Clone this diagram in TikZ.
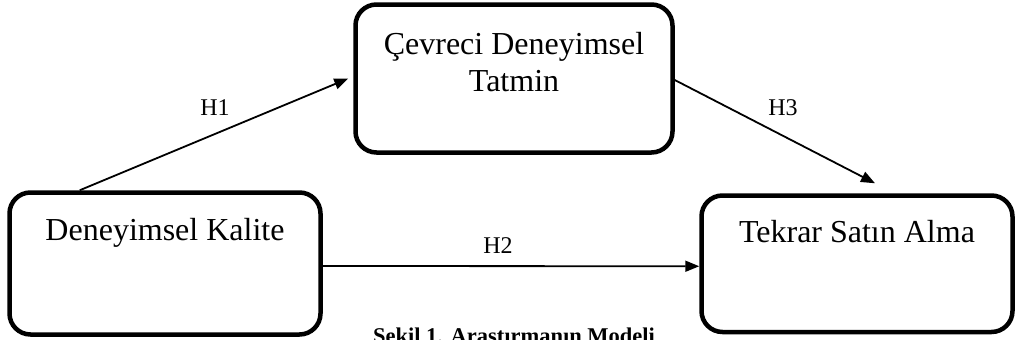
\documentclass[tikz,border=0pt]{standalone}
\usepackage{fontspec}
\setmainfont{Liberation Serif}
\usetikzlibrary{arrows.meta}
\tikzset{
  box/.style={draw, line width=4.5pt, rounded corners=21pt, inner sep=0pt},
  boxtext/.style={inner sep=0pt, font=\fontsize{32}{37}\selectfont, align=center},
  hyplabel/.style={inner sep=0pt, font=\fontsize{24}{28}\selectfont},
  arr/.style={line width=1.8pt, -{Triangle[length=14pt,width=11pt]}},
  caption/.style={inner sep=0pt, font=\fontsize{22.5}{26}\selectfont\bfseries}
}
\begin{document}
\begin{tikzpicture}[x=1pt, y=-1pt]
\useasboundingbox (0,0) rectangle (1018,340);
% construct boxes
\node[box, minimum width=311pt, minimum height=142pt] (dk) at (165,263.5) {};
\node[box, minimum width=317pt, minimum height=148pt] (cdt) at (514,78.5) {};
\node[box, minimum width=311pt, minimum height=136.5pt] (tsa) at (857,263.75) {};
% box titles
\node[boxtext, anchor=base] (dkt) at (165,240) {Deneyimsel Kalite};
\node[boxtext, anchor=north] (cdtt) at (514,31.8) {Çevreci Deneyimsel\\Tatmin};
\node[boxtext, anchor=base] (tsat) at (857,242) {Tekrar Satın Alma};
% hypothesised paths
\draw[arr] ([xshift=72.5pt]dk.north west) -- ([xshift=-5pt]cdt.west);
\draw[arr] ([yshift=-1.5pt]cdt.east) -- ([xshift=18pt,yshift=10pt]tsa.north);
\draw[arr] ([yshift=-2.5pt]dk.east) -- ([yshift=-2.5pt]tsa.west);
\node[hyplabel, anchor=base] (h1) at (215,115) {H1};
\node[hyplabel, anchor=base] (h2) at (498,253) {H2};
\node[hyplabel, anchor=base] (h3) at (783,115) {H3};
% figure caption
\node[caption, anchor=base] (cap) at (514,343) {Şekil 1. Araştırmanın Modeli};
\end{tikzpicture}
\end{document}
